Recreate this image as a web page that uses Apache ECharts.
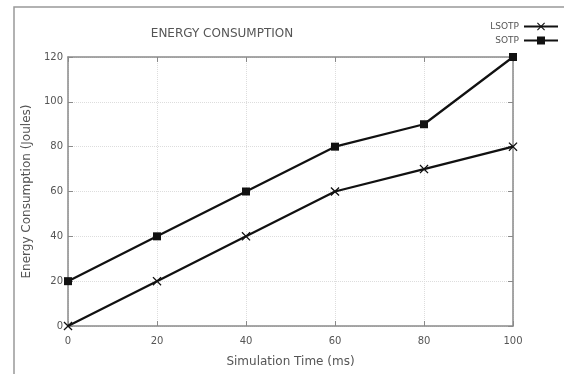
<!DOCTYPE html>
<html>
<head>
<meta charset="utf-8">
<script src="https://cdn.jsdelivr.net/npm/echarts@6/dist/echarts.min.js"></script>
<style>
  html, body { margin: 0; padding: 0; background: #fff; }
  #chart { width: 564px; height: 374px; }
</style>
</head>
<body>
<div id="chart"></div>
<script>
const timeMs = [0, 20, 40, 60, 80, 100]
const lsotp = [0, 20, 40, 60, 70, 80]
const sotp = [20, 40, 60, 80, 90, 120]

const crossSymbol = 'path://M0,1 L1,0 L5,4 L9,0 L10,1 L6,5 L10,9 L9,10 L5,6 L1,10 L0,9 L4,5 Z'
const font = 'DejaVu Sans'
const textColor = '#555'
const frameColor = '#8a8a8a'

const chart = echarts.init(document.getElementById('chart'))

const pairs = arr => timeMs.map((t, i) => [t, arr[i]])

chart.setOption({
  animation: false,
  textStyle: { fontFamily: font },
  graphic: [{
    type: 'rect',
    shape: { x: 14, y: 7, width: 600, height: 400 },
    style: { fill: 'none', stroke: '#999', lineWidth: 1.5 },
    silent: true
  }],
  title: {
    text: 'ENERGY CONSUMPTION',
    left: 217,
    top: 23,
    textAlign: 'center',
    textStyle: { fontFamily: font, fontSize: 12, fontWeight: 'normal', color: textColor }
  },
  legend: {
    right: 0,
    top: 17,
    orient: 'vertical',
    align: 'right',
    itemWidth: 34,
    itemHeight: 10,
    itemGap: 5,
    textStyle: { fontFamily: font, fontSize: 9, color: textColor },
    data: ['LSOTP', 'SOTP']
  },
  grid: { left: 68, right: 51, top: 57, bottom: 48 },
  xAxis: [{
    type: 'value',
    min: 0,
    max: 100,
    interval: 20,
    name: 'Simulation Time (ms)',
    nameLocation: 'middle',
    nameGap: 30,
    nameTextStyle: { fontSize: 12, color: textColor },
    axisLine: { onZero: false, lineStyle: { color: frameColor, width: 1.5 } },
    axisTick: { inside: true, length: 5, lineStyle: { color: frameColor } },
    axisLabel: { fontSize: 10, color: textColor, margin: 10 },
    splitLine: { show: true, lineStyle: { color: '#ddd', type: 'dotted' } }
  }, {
    type: 'value',
    position: 'top',
    min: 0,
    max: 100,
    interval: 20,
    axisLine: { show: true, onZero: false, lineStyle: { color: frameColor, width: 1.5 } },
    axisTick: { show: true, inside: true, length: 5, lineStyle: { color: frameColor } },
    axisLabel: { show: false },
    splitLine: { show: false }
  }],
  yAxis: [{
    type: 'value',
    min: 0,
    max: 120,
    interval: 20,
    name: 'Energy Consumption (Joules)',
    nameLocation: 'middle',
    nameGap: 35,
    nameTextStyle: { fontSize: 12, color: textColor },
    axisLine: { show: true, onZero: false, lineStyle: { color: frameColor, width: 1.5 } },
    axisTick: { show: true, inside: true, length: 5, lineStyle: { color: frameColor } },
    axisLabel: { fontSize: 10, color: textColor, margin: 5 },
    splitLine: { show: true, lineStyle: { color: '#ddd', type: 'dotted' } }
  }, {
    type: 'value',
    position: 'right',
    min: 0,
    max: 120,
    interval: 20,
    axisLine: { show: true, onZero: false, lineStyle: { color: frameColor, width: 1.5 } },
    axisTick: { show: true, inside: true, length: 5, lineStyle: { color: frameColor } },
    axisLabel: { show: false },
    splitLine: { show: false }
  }],
  series: [{
    name: 'LSOTP',
    type: 'line',
    data: pairs(lsotp),
    symbol: crossSymbol,
    symbolSize: 9,
    lineStyle: { color: '#111', width: 2.2 },
    itemStyle: { color: '#111' }
  }, {
    name: 'SOTP',
    type: 'line',
    data: pairs(sotp),
    symbol: 'rect',
    symbolSize: 8,
    lineStyle: { color: '#111', width: 2.2 },
    itemStyle: { color: '#111' }
  }]
})
</script>
</body>
</html>
